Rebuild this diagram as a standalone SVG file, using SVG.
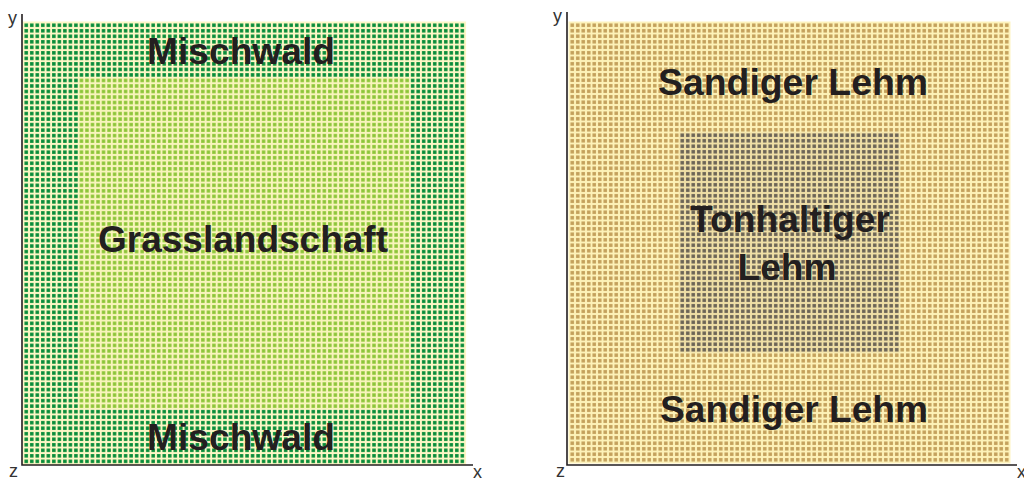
<svg xmlns="http://www.w3.org/2000/svg" width="1024" height="482" viewBox="0 0 1024 482">
  <style>
    .axis { stroke: #231f20; stroke-width: 1.6; fill: none; }
    .axlbl { font-family: "Liberation Sans", "DejaVu Sans", sans-serif; font-size: 18px; fill: #333333; }
    .zone { font-family: "Liberation Sans", "DejaVu Sans", sans-serif; font-weight: bold; font-size: 36px; fill: #231f20; text-anchor: middle; }
  </style>
  <defs>
    <!-- Left panel tiles: dark green woodland -->
    <pattern id="tileForest" patternUnits="userSpaceOnUse" x="23.5" y="22.5" width="5.52" height="5.52">
      <rect width="5.52" height="5.52" fill="#fdf7c6"/>
      <rect x="0.95" y="0.95" width="3.6" height="3.6" fill="#259c48"/>
      <rect x="1.5" y="1.5" width="2.5" height="2.5" fill="#078a3a"/>
    </pattern>
    <!-- Left panel tiles: light green grassland -->
    <pattern id="tileGrass" patternUnits="userSpaceOnUse" x="23.5" y="22.5" width="5.52" height="5.52">
      <rect width="5.52" height="5.52" fill="#f8f4bc"/>
      <rect x="0.95" y="0.95" width="3.6" height="3.6" fill="#a2cf4c"/>
      <rect x="1.5" y="1.5" width="2.5" height="2.5" fill="#8bc43a"/>
    </pattern>
    <!-- Right panel tiles: sandy loam -->
    <pattern id="tileSand" patternUnits="userSpaceOnUse" x="569.5" y="22.5" width="5.5" height="5.5">
      <rect width="5.5" height="5.5" fill="#fdf2b8"/>
      <rect x="0.95" y="0.95" width="3.6" height="3.6" fill="#cbaa66"/>
      <rect x="1.5" y="1.5" width="2.5" height="2.5" fill="#c3a05a"/>
    </pattern>
    <!-- Right panel tiles: clay loam -->
    <pattern id="tileClay" patternUnits="userSpaceOnUse" x="569.5" y="22.5" width="5.5" height="5.5">
      <rect width="5.5" height="5.5" fill="#efdfa6"/>
      <rect x="0.95" y="0.95" width="3.6" height="3.6" fill="#7c7361"/>
      <rect x="1.5" y="1.5" width="2.5" height="2.5" fill="#6a6354"/>
    </pattern>
  </defs>

  <rect width="1024" height="482" fill="#ffffff"/>

  <!-- Left panel: vegetation -->
  <g id="vegetation-panel">
    <g id="forest">
      <rect x="22.5" y="21.5" width="443.6" height="443.6" fill="#fdf7c6"/>
      <rect x="23.5" y="22.5" width="441.6" height="441.6" fill="url(#tileForest)"/>
    </g>
    <g id="grassland">
      <rect x="78.7" y="77.7" width="331.2" height="331.2" fill="url(#tileGrass)"/>
    </g>
    <text class="zone" x="241" y="64" textLength="188" lengthAdjust="spacingAndGlyphs">Mischwald</text>
    <text class="zone" x="243" y="252" textLength="290" lengthAdjust="spacingAndGlyphs">Grasslandschaft</text>
    <text class="zone" x="241" y="450" textLength="188" lengthAdjust="spacingAndGlyphs">Mischwald</text>
  </g>

  <!-- Right panel: soil -->
  <g id="soil-panel">
    <g id="sandy-loam">
      <rect x="568.5" y="21.5" width="442" height="442" fill="#fdf3c0"/>
      <rect x="569.5" y="22.5" width="440" height="440" fill="url(#tileSand)"/>
    </g>
    <g id="clay-loam">
      <rect x="679.5" y="132.5" width="220" height="220" fill="url(#tileClay)"/>
    </g>
    <text class="zone" x="793" y="95" textLength="270" lengthAdjust="spacingAndGlyphs">Sandiger Lehm</text>
    <text class="zone" x="790" y="232" textLength="200" lengthAdjust="spacingAndGlyphs">Tonhaltiger</text>
    <text class="zone" x="787" y="280" textLength="99" lengthAdjust="spacingAndGlyphs">Lehm</text>
    <text class="zone" x="794" y="422" textLength="268" lengthAdjust="spacingAndGlyphs">Sandiger Lehm</text>
  </g>

  <!-- Axes -->
  <g id="axes">
    <path class="axis" d="M22 14 V465 M21.2 465 H473"/>
    <path class="axis" d="M567 12 V465 M566.2 465 H1017"/>
    <text class="axlbl" x="8" y="24">y</text>
    <text class="axlbl" x="9" y="477">z</text>
    <text class="axlbl" x="473" y="478">x</text>
    <text class="axlbl" x="553" y="22">y</text>
    <text class="axlbl" x="556" y="477">z</text>
    <text class="axlbl" x="1017" y="478">x</text>
  </g>
</svg>
